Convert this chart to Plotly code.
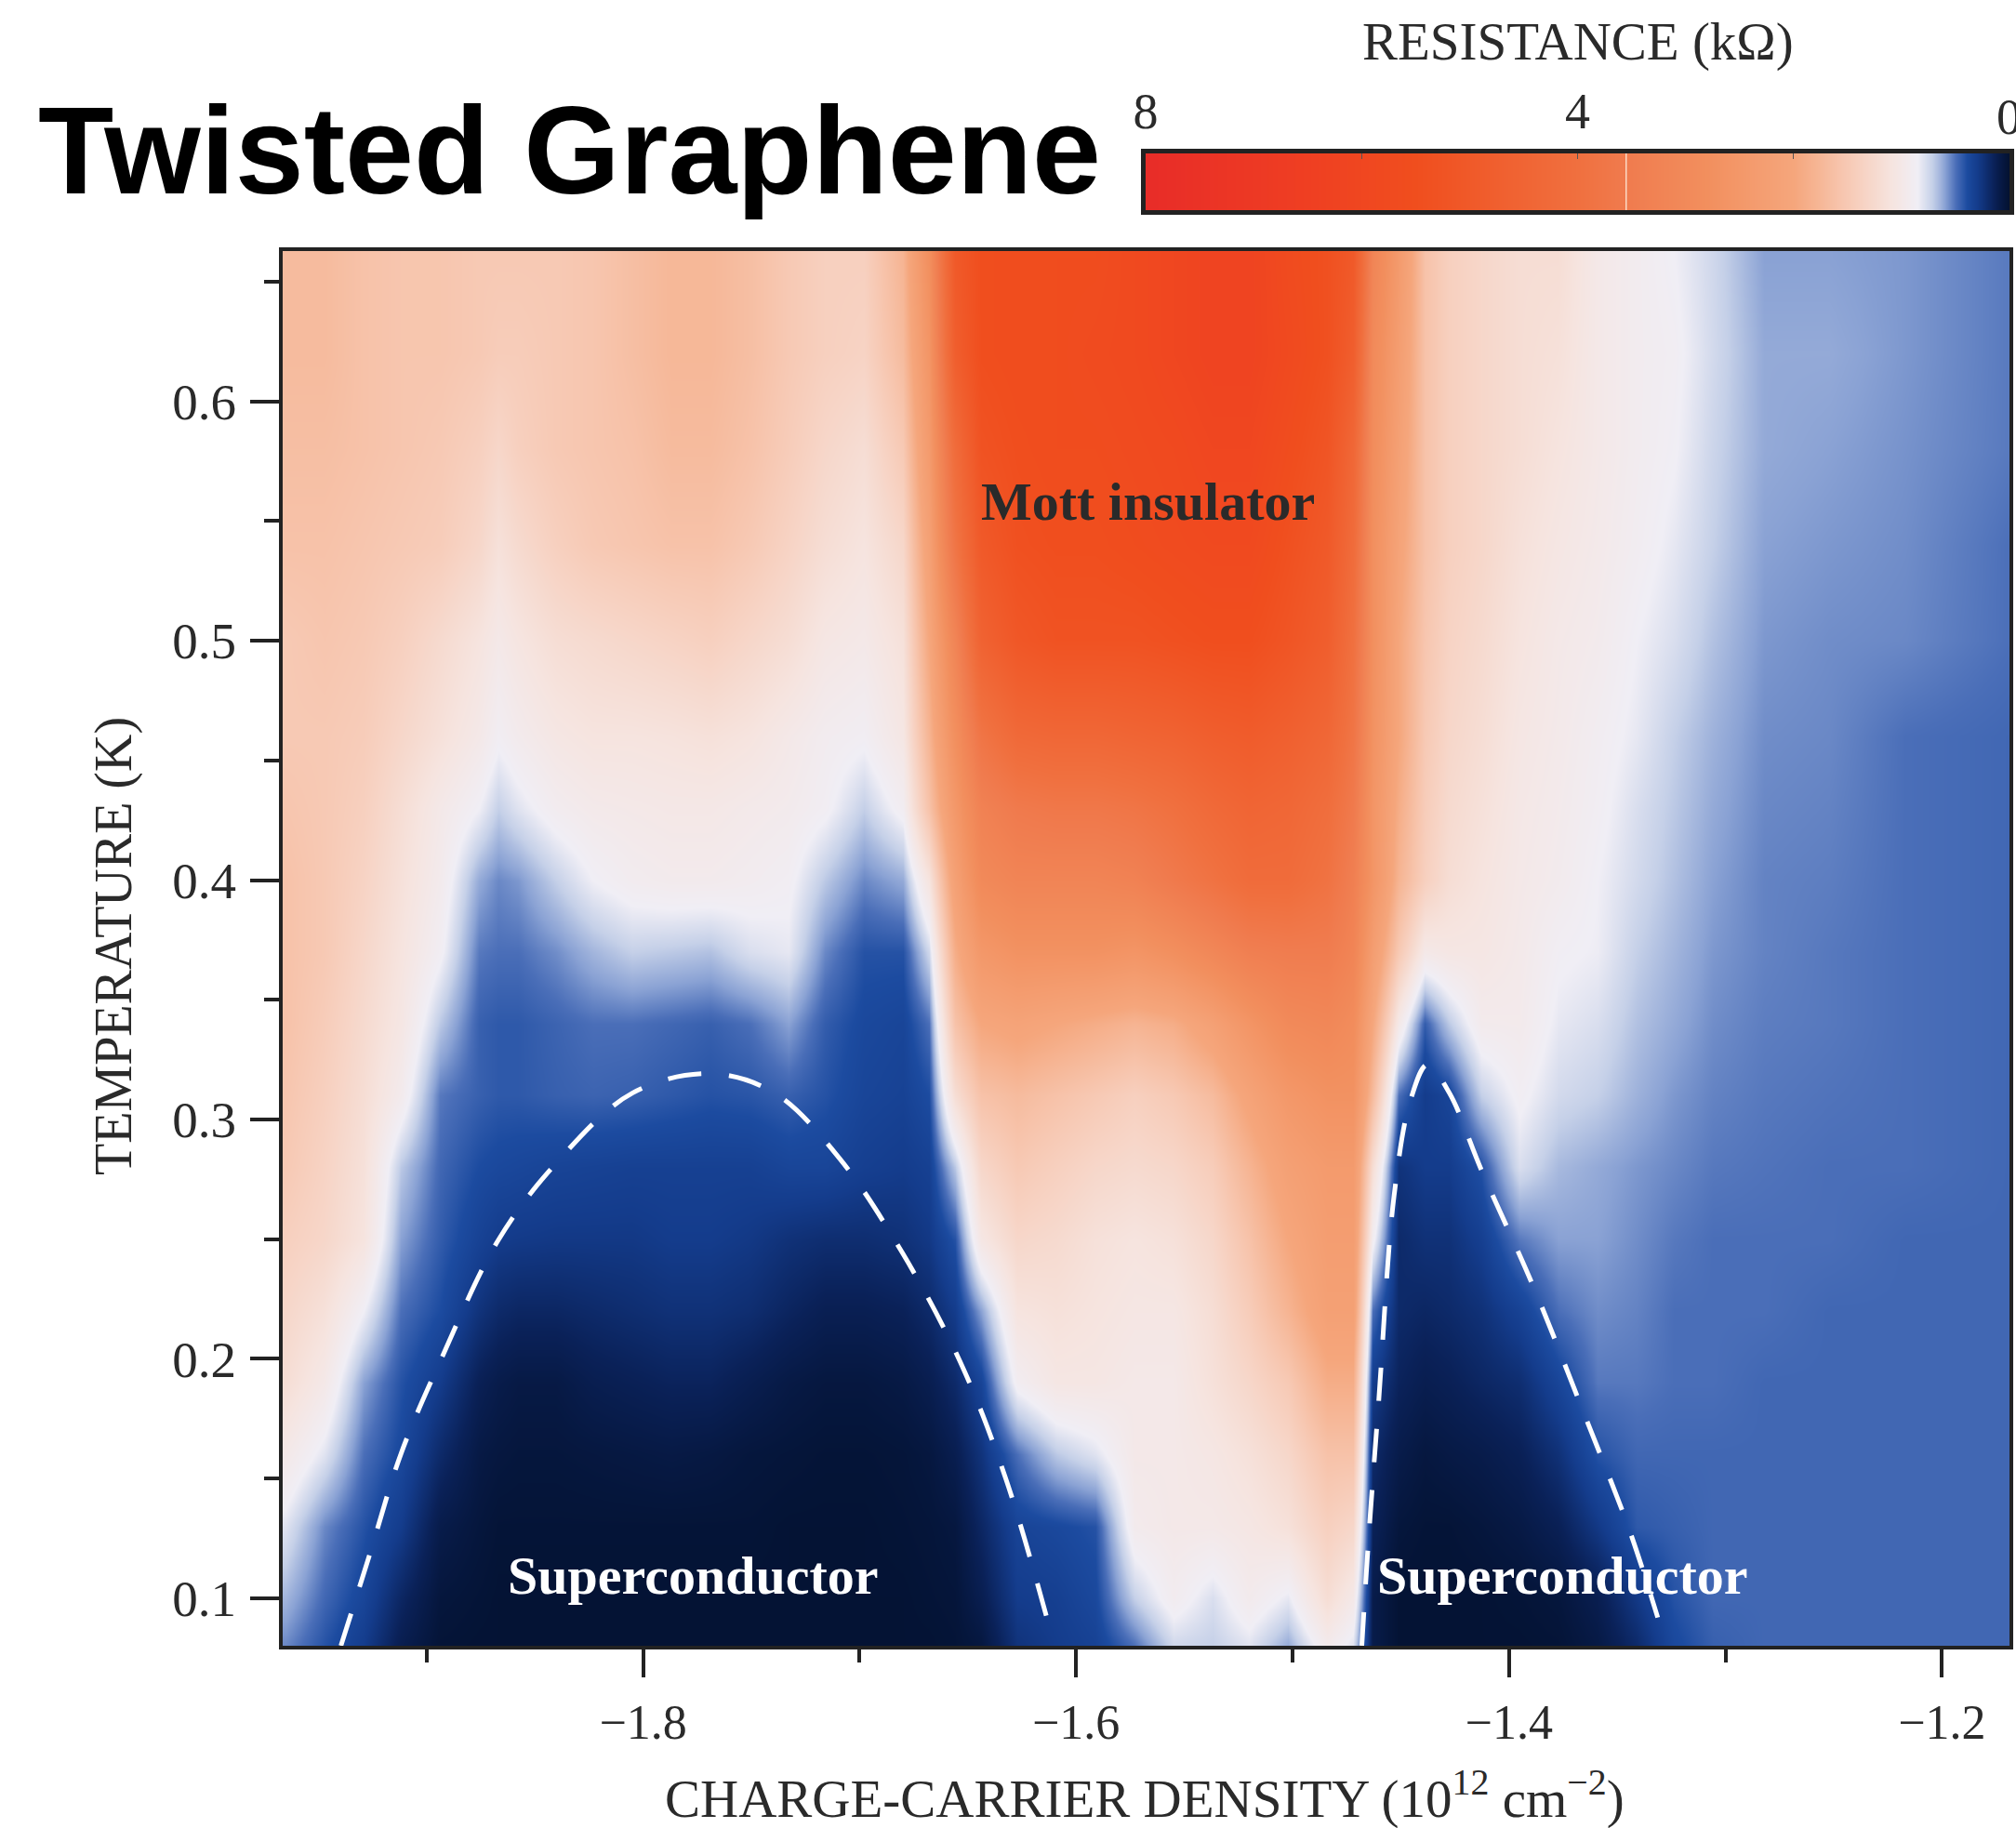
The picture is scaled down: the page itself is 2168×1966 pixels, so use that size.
import plotly.graph_objects as go

carrier_density = [-1.965,-1.947,-1.929,-1.912,-1.894,-1.876,-1.867,-1.858,-1.840,-1.823,-1.805,-1.787,-1.769,-1.751,-1.733,-1.716,-1.698,-1.680,-1.668,-1.656,-1.644,-1.627,-1.609,-1.591,-1.573,-1.555,-1.537,-1.520,-1.502,-1.484,-1.472,-1.463,-1.451,-1.439,-1.428,-1.413,-1.395,-1.377,-1.359,-1.341,-1.324,-1.306,-1.282,-1.252,-1.217,-1.167]
temperature = [0.08,0.10,0.13,0.16,0.19,0.22,0.25,0.28,0.31,0.34,0.37,0.40,0.43,0.46,0.50,0.54,0.58,0.62,0.66]

r_008 = [.55,.42,.3,.12,.03,.02,.02,.02,.02,.02,.02,.02,.02,.02,.02,.02,.02,.02,.02,.03,.06,.25,.3,.34,.5,.75,.72,.8,.62,.95,.8,.1,.02,.02,.02,.02,.02,.03,.08,.2,.38,.46,.48,.48,.48,.48]
r_010 = [.65,.48,.36,.18,.05,.03,.02,.02,.02,.02,.02,.02,.02,.02,.02,.02,.02,.02,.03,.04,.12,.3,.32,.38,.72,.92,.78,.95,.82,1.2,1.0,.1,.02,.02,.02,.02,.03,.05,.12,.28,.42,.48,.48,.48,.48,.48]
r_013 = [.8,.55,.42,.3,.1,.05,.03,.03,.03,.03,.03,.03,.03,.03,.02,.02,.02,.03,.04,.06,.18,.35,.38,.42,.95,1,1,1.05,1.15,1.4,1.3,.15,.05,.03,.03,.05,.08,.14,.28,.44,.46,.48,.48,.48,.48,.48]
r_016 = [1.0,.8,.5,.38,.2,.08,.06,.05,.05,.06,.07,.08,.07,.05,.04,.03,.03,.04,.06,.12,.25,.5,.7,.8,1.0,1,1.05,1.15,1.3,1.6,1.6,.2,.1,.06,.08,.1,.14,.24,.42,.48,.48,.48,.48,.48,.48,.48]
r_019 = [1.2,1.0,.6,.42,.3,.14,.1,.08,.08,.12,.14,.16,.16,.12,.08,.06,.06,.08,.12,.2,.35,.9,1.05,1.05,1,1,1.15,1.3,1.5,1.9,1.9,.3,.16,.12,.14,.18,.22,.36,.52,.52,.5,.5,.48,.48,.48,.48]
r_022 = [1.3,1.15,.85,.5,.4,.25,.2,.18,.18,.2,.22,.24,.24,.22,.17,.13,.13,.15,.2,.3,.6,1.1,1.15,1.1,1.05,1.05,1.2,1.45,1.8,2.2,2.2,.5,.2,.18,.2,.24,.34,.5,.56,.54,.5,.5,.5,.48,.48,.48]
r_025 = [1.4,1.3,1.1,.6,.45,.34,.3,.29,.28,.28,.28,.3,.3,.28,.24,.22,.22,.24,.28,.42,1.05,1.3,1.25,1.15,1.1,1.15,1.3,1.6,2.0,2.3,2.3,.9,.2,.24,.24,.32,.52,.6,.6,.56,.52,.5,.5,.5,.48,.48]
r_028 = [1.5,1.35,1.15,.7,.48,.4,.38,.37,.35,.34,.33,.33,.33,.33,.36,.36,.32,.3,.33,.7,1.3,1.5,1.4,1.3,1.25,1.3,1.45,1.8,2.2,2.4,2.4,1.2,.25,.3,.3,.42,.78,.66,.62,.58,.55,.52,.51,.5,.5,.48]
r_031 = [1.55,1.4,1.2,.95,.52,.46,.44,.44,.46,.47,.46,.44,.42,.43,.46,.42,.36,.34,.4,1.2,1.6,1.7,1.6,1.5,1.4,1.5,1.7,2.1,2.5,2.7,2.7,1.7,.5,.3,.36,.72,.88,.76,.72,.64,.58,.54,.52,.51,.5,.48]
r_034 = [1.6,1.45,1.25,1.05,.7,.46,.44,.44,.47,.5,.5,.48,.46,.5,.6,.45,.38,.36,.5,1.6,2.0,2.1,2.0,1.9,1.8,1.9,2.2,2.6,3.0,3.1,2.9,2.0,1.0,.45,.7,.95,.96,.82,.78,.68,.62,.56,.53,.52,.5,.48]
r_037 = [1.6,1.5,1.3,1.1,.88,.52,.5,.5,.56,.65,.72,.7,.68,.78,.82,.55,.42,.42,.75,1.9,2.5,2.7,2.7,2.7,2.6,2.8,3.1,3.4,3.5,3.5,3.2,2.3,1.5,1.0,1.05,1.05,.98,.87,.84,.72,.65,.58,.54,.52,.5,.48]
r_040 = [1.6,1.5,1.35,1.15,.95,.62,.55,.58,.72,.85,.92,.95,.95,.92,.88,.7,.55,.62,1.1,2.2,3,3.2,3.2,3.2,3.3,3.6,3.9,4.2,4.2,3.9,3.4,2.6,1.8,1.4,1.2,1.1,1,.94,.85,.76,.68,.6,.54,.53,.5,.48]
r_043 = [1.55,1.5,1.4,1.2,1.0,.85,.72,.8,.92,.98,1.0,1.02,1.02,.98,.95,.88,.72,.9,1.6,2.5,3.3,3.6,3.7,3.7,3.8,4,4.3,4.5,4.4,4.1,3.6,2.6,1.9,1.45,1.25,1.15,1.02,.96,.88,.78,.7,.62,.55,.54,.5,.48]
r_046 = [1.5,1.5,1.45,1.3,1.15,1.0,.88,.95,1.05,1.1,1.1,1.12,1.15,1.1,1.0,.92,.88,1.05,1.8,2.8,3.8,4.3,4.4,4.4,4.5,4.6,4.8,4.9,4.7,4.4,3.8,2.7,2.0,1.5,1.3,1.2,1.05,.98,.9,.82,.72,.64,.56,.55,.5,.48]
r_050 = [1.5,1.55,1.5,1.4,1.25,1.1,1.0,1.08,1.2,1.25,1.3,1.35,1.4,1.3,1.2,1.05,1.0,1.15,2.0,3.2,4.6,5.1,5.3,5.3,5.3,5.4,5.5,5.5,5.2,4.8,4,2.8,2.0,1.55,1.35,1.25,1.1,1.0,.95,.85,.78,.68,.58,.56,.55,.5]
r_054 = [1.6,1.6,1.55,1.5,1.45,1.3,1.15,1.25,1.4,1.5,1.55,1.6,1.6,1.5,1.35,1.2,1.1,1.3,2.2,3.8,5,5.4,5.5,5.5,5.6,5.7,5.8,5.8,5.4,5,4.2,2.8,2.1,1.6,1.4,1.3,1.15,1.05,.98,.9,.82,.72,.6,.58,.56,.5]
r_058 = [1.65,1.65,1.6,1.55,1.5,1.4,1.3,1.4,1.5,1.55,1.6,1.7,1.7,1.6,1.45,1.3,1.2,1.5,2.4,4.2,5.3,5.5,5.6,5.6,5.7,5.8,6,6,5.6,5.2,4.4,2.9,2.2,1.6,1.4,1.3,1.2,1.1,1,.92,.86,.74,.62,.6,.57,.52]
r_062 = [1.7,1.7,1.6,1.55,1.55,1.5,1.45,1.45,1.5,1.55,1.65,1.75,1.75,1.65,1.5,1.4,1.35,1.7,2.6,4.8,5.5,5.6,5.6,5.7,5.8,6,6.2,6.2,5.8,5.4,4.8,3.0,2.3,1.6,1.4,1.3,1.2,1.15,1.0,.92,.88,.76,.62,.62,.58,.52]
r_066 = [1.7,1.7,1.6,1.55,1.55,1.5,1.5,1.5,1.5,1.55,1.65,1.75,1.75,1.65,1.5,1.4,1.4,1.8,2.8,5,5.5,5.6,5.6,5.6,5.8,6,6.2,6.2,5.7,5.4,5,3.2,2.4,1.6,1.4,1.3,1.2,1.2,1.0,.92,.85,.75,.6,.6,.58,.52]
resistance = [r_008,r_010,r_013,r_016,r_019,r_022,r_025,r_028,r_031,r_034,r_037,r_040,r_043,r_046,r_050,r_054,r_058,r_062,r_066]
for row in resistance:
    assert len(row) == len(carrier_density), len(row)

dome_left_n = [-1.9396,-1.9265,-1.9117,-1.8927,-1.8671,-1.8404,-1.8048,-1.7691,-1.7394,-1.7097,-1.68,-1.6533,-1.6325,-1.6129]
dome_left_t = [.0801,.1177,.1607,.201,.2493,.2815,.3111,.3191,.3111,.2842,.2439,.1983,.15,.0898]
dome_right_n = [-1.468,-1.465,-1.4602,-1.4531,-1.4454,-1.4377,-1.4276,-1.4127,-1.3889,-1.3652,-1.3444,-1.3313]
dome_right_t = [.0801,.1231,.1822,.2681,.3084,.3229,.3111,.2788,.2305,.1768,.1285,.0919]

bar_values = [0,0.05,0.1,0.15,0.2,0.25,0.3,0.35,0.4,0.45,0.5,0.55,0.6,0.65,0.7,0.75,0.8,0.85,0.9,1,1.2,1.4,1.6,1.8,2,2.4,2.8,3.2,3.6,4,4.5,5,5.5,6,6.5,7,7.5,8]

stops_k = [0,.15,.30,.40,.50,.60,.72,.85,1.10,1.50,2.0,2.8,3.55,4.0,5.5,6.5,8]
stops_c = ["#03112f","#0a2158","#143c8c","#1c4ba0","#4a6eb8","#8aa2d4","#c5d0e8","#f0eef5","#f6e4df","#f7c9b4","#f5a67c","#f28f5e","#f07b4e","#f0703f","#f04e1e","#ef3f22","#e82c28"]
colorscale = [[k/8, c] for k, c in zip(stops_k, stops_c)]

W, H = 2168, 1966
def px(x): return x/W
def py(y): return 1-y/H
SERIF = "Liberation Serif"
INK = "#2a2a2a"

fig = go.Figure()
fig.add_trace(go.Heatmap(x=carrier_density, y=temperature, z=resistance, zmin=0, zmax=8,
                         colorscale=colorscale, zsmooth="best", showscale=False))
for xs, ys in ((dome_left_n, dome_left_t), (dome_right_n, dome_right_t)):
    fig.add_trace(go.Scatter(x=xs, y=ys, mode="lines", showlegend=False,
                             line=dict(color="white", width=5, dash="36px,30px", shape="spline")))
fig.add_trace(go.Heatmap(x=bar_values, y=[0, 1], z=[bar_values, bar_values], zmin=0, zmax=8,
                         colorscale=colorscale, zsmooth="best", showscale=False, xaxis="x2", yaxis="y2"))
fig.add_shape(type="line", xref="x2", yref="y2", x0=3.55, x1=3.55, y0=0, y1=1, line=dict(color="#fbd9c6", width=1.5))

fig.update_layout(
    width=W, height=H, margin=dict(l=0, r=0, t=0, b=0),
    paper_bgcolor="white", plot_bgcolor="white", showlegend=False,
    font=dict(family=SERIF, color=INK, size=50),
    xaxis=dict(domain=[px(304), px(2161)], range=[-1.9665, -1.1688], anchor="y", automargin=False,
               tickmode="array", tickvals=[-1.8, -1.6, -1.4, -1.2],
               ticktext=["−1.8", "−1.6", "−1.4", "−1.2"],
               ticks="outside", ticklen=30, tickwidth=3.5, tickcolor="#222",
               minor=dict(tickmode="array", tickvals=[-1.9, -1.7, -1.5, -1.3], ticks="outside", ticklen=14, tickwidth=3.5, tickcolor="#222"),
               showgrid=False, zeroline=False, showline=True, linecolor="#222", linewidth=4, mirror=True,
               tickfont=dict(family=SERIF, size=52, color=INK), ticklabelstandoff=4),
    yaxis=dict(domain=[py(1770), py(270)], range=[0.0801, 0.6628], anchor="x", automargin=False,
               tickmode="array", tickvals=[0.1, 0.2, 0.3, 0.4, 0.5, 0.6],
               ticktext=["0.1", "0.2", "0.3", "0.4", "0.5", "0.6"],
               ticks="outside", ticklen=31, tickwidth=3.5, tickcolor="#222",
               minor=dict(tickmode="array", tickvals=[0.15, 0.25, 0.35, 0.45, 0.55, 0.65], ticks="outside", ticklen=16, tickwidth=3.5, tickcolor="#222"),
               showgrid=False, zeroline=False, showline=True, linecolor="#222", linewidth=4, mirror=True,
               tickfont=dict(family=SERIF, size=55, color=INK), ticklabelstandoff=4),
    xaxis2=dict(domain=[px(1232), px(2161)], range=[8, 0], anchor="y2", side="top", automargin=False,
                tickmode="array", tickvals=[8, 6, 4, 2], ticktext=["8", "", "4", ""],
                ticks="inside", ticklen=6, tickwidth=1, tickcolor="#555",
                showgrid=False, zeroline=False, showline=True, linecolor="#222", linewidth=5, mirror=True,
                tickfont=dict(family=SERIF, size=54, color=INK), ticklabelstandoff=0),
    yaxis2=dict(domain=[py(226), py(165)], range=[0, 1], anchor="x2", showticklabels=False, ticks="", automargin=False,
                showgrid=False, zeroline=False, showline=True, linecolor="#222", linewidth=5, mirror=True),
)

def note(text, x, y, size, color=INK, family=SERIF, ref="paper", **kw):
    fig.add_annotation(text=text, x=x, y=y, xref="paper" if ref == "paper" else "x", yref="paper" if ref == "paper" else "y",
                       xanchor="center", yanchor="middle",
                       showarrow=False, font=dict(family=family, size=size, color=color), **kw)

note("<b>Twisted Graphene</b>", px(612), py(162), 133, color="black", family="Liberation Sans")
note("RESISTANCE (kΩ)", px(1697), py(45), 57)
note("0", px(2160), py(126), 54)
note("CHARGE-CARRIER DENSITY (10<sup>12</sup> cm<sup>−2</sup>)", px(1231), py(1930), 57)
note("TEMPERATURE (K)", px(122), py(1018), 56, textangle=-90)
note("<b>Mott insulator</b>", -1.567, 0.558, 58, ref="data")
note("<b>Superconductor</b>", -1.777, 0.1095, 58, color="white", ref="data")
note("<b>Superconductor</b>", -1.375, 0.1095, 58, color="white", ref="data")

fig.write_html("out.html", post_script="document.body.style.margin='0';", config=dict(displayModeBar=False))
